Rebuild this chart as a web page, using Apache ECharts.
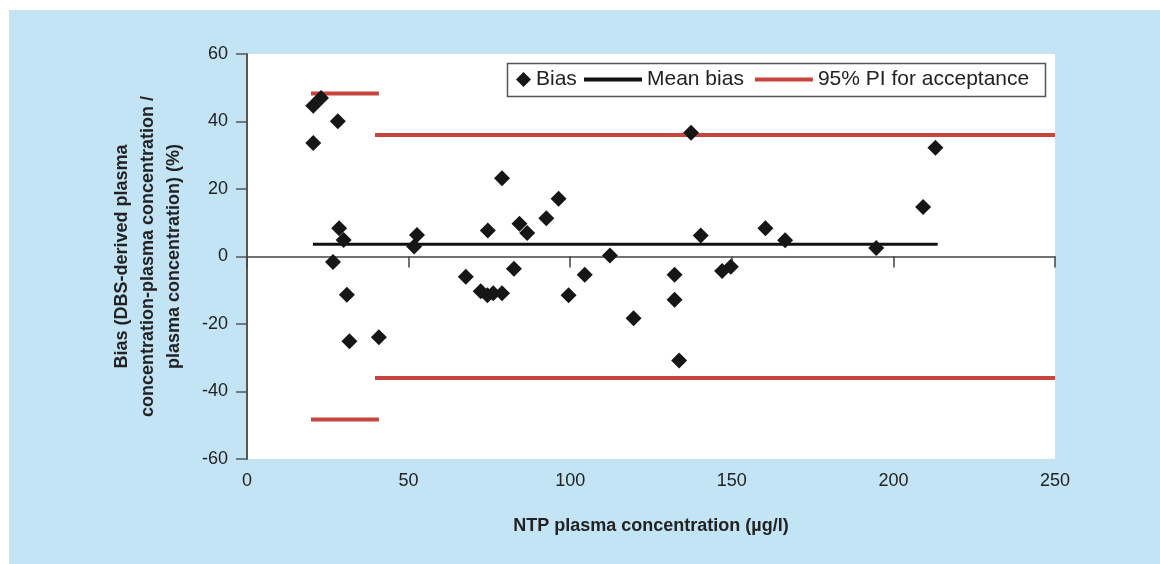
<!DOCTYPE html>
<html>
<head>
<meta charset="utf-8">
<script src="https://cdn.jsdelivr.net/npm/echarts@6/dist/echarts.min.js"></script>
<style>
  html, body { margin: 0; padding: 0; background: #ffffff; }
  #bg { position: absolute; left: 9px; top: 10px; width: 1151px; height: 554px; background: #c3e4f5; }
  #chart { position: absolute; left: 0; top: 0; width: 1160px; height: 564px; }
</style>
</head>
<body>
<div id="bg"></div>
<div id="chart"></div>
<script>
// ---- data ----
const ntpConc = [20.5, 22.9, 20.5, 28.1, 28.5, 29.9, 26.6, 30.9, 31.7, 40.8,
                 52.6, 51.7, 67.7, 74.5, 78.9, 72.3, 74.4, 76.2, 78.9, 82.6,
                 84.3, 86.7, 92.6, 96.4, 99.5, 104.5, 112.3, 119.6, 132.3, 132.3,
                 133.7, 137.4, 140.4, 147.0, 149.7, 160.4, 166.5, 194.7, 209.2, 213.0];
const biasPct = [44.7, 47.0, 33.6, 40.1, 8.4, 4.9, -1.6, -11.3, -25.1, -23.9,
                 6.4, 3.0, -6.0, 7.7, 23.2, -10.3, -11.5, -10.9, -10.9, -3.6,
                 9.7, 7.0, 11.3, 17.1, -11.5, -5.4, 0.3, -18.3, -5.4, -12.8,
                 -30.8, 36.7, 6.2, -4.3, -3.0, 8.4, 4.8, 2.5, 14.7, 32.2];
const meanBias = 3.6;
const meanBiasRange = [20.4, 213.7];
const piLowConc = 48.3;          // acceptance limit (±) for low concentrations
const piLowConcRange = [19.8, 40.8];
const piHighConc = 36.0;         // acceptance limit (±) above 40 µg/l
const piHighConcRange = [39.6, 250];
const xTicks = [0, 250, 50];     // min, max, interval
const yTicks = [-60, 60, 20];
const legendNames = ['Bias', 'Mean bias', '95% PI for acceptance'];

const FONT = 'Liberation Sans, Arial, Helvetica, sans-serif';
const RED = '#c8453d';

const scatterData = ntpConc.map((x, i) => [x, biasPct[i]]);
function hLine(range, y) { return range.map(x => [x, y]); }

function piSeries(range, y) {
  return {
    name: legendNames[2], type: 'line', data: hLine(range, y),
    xAxisIndex: 0, symbol: 'none', color: RED,
    lineStyle: { color: RED, width: 4 }, z: 3
  };
}

const chart = echarts.init(document.getElementById('chart'), null, { renderer: 'canvas' });
chart.setOption({
  animation: false,
  textStyle: { fontFamily: FONT },
  grid: { left: 247, top: 54, width: 808, height: 405, show: true, backgroundColor: '#ffffff', borderWidth: 0 },
  graphic: [{
    type: 'rect', z: 1,
    shape: { x: 507.5, y: 63.5, width: 538, height: 33 },
    style: { fill: '#ffffff', stroke: '#555555', lineWidth: 1.5 }
  }],
  legend: [
    {
      data: [{ name: legendNames[0], icon: 'diamond' }],
      left: 516, top: 69, itemWidth: 15, itemHeight: 15, z: 5,
      textStyle: { fontSize: 21, color: '#222', fontFamily: FONT }, padding: 0
    },
    {
      data: [{ name: legendNames[1], icon: 'rect' }, { name: legendNames[2], icon: 'rect' }],
      left: 584, top: 69, itemWidth: 58, itemHeight: 4, itemGap: 11, z: 5,
      textStyle: { fontSize: 21, color: '#222', fontFamily: FONT }, padding: 0
    }
  ],
  xAxis: [
    {
      type: 'value', position: 'bottom', min: xTicks[0], max: xTicks[1], interval: xTicks[2],
      axisLine: { show: false, onZero: false }, axisTick: { show: false }, splitLine: { show: false },
      axisLabel: { fontSize: 18, color: '#222', margin: 13, fontFamily: FONT },
      name: 'NTP plasma concentration (µg/l)', nameLocation: 'middle', nameGap: 58,
      nameTextStyle: { fontSize: 18, fontWeight: 'bold', color: '#222', fontFamily: FONT }
    },
    {
      type: 'value', position: 'top', min: xTicks[0], max: xTicks[1], interval: xTicks[2],
      axisLine: { show: true, onZero: true, lineStyle: { color: '#444', width: 1.5 } },
      axisTick: { show: true, inside: true, length: 11, lineStyle: { color: '#444', width: 1.5 } },
      axisLabel: { show: false }, splitLine: { show: false }
    }
  ],
  yAxis: {
    type: 'value', min: yTicks[0], max: yTicks[1], interval: yTicks[2],
    axisLine: { show: true, lineStyle: { color: '#555', width: 2 } },
    axisTick: { show: true, length: 11, lineStyle: { color: '#555', width: 1.5 } },
    splitLine: { show: false },
    axisLabel: { fontSize: 18, color: '#222', margin: 19, fontFamily: FONT },
    name: 'Bias (DBS-derived plasma\nconcentration-plasma concentration /\nplasma concentration) (%)',
    nameLocation: 'middle', nameRotate: 90, nameGap: 60,
    nameTextStyle: { fontSize: 18, fontWeight: 'bold', color: '#222', lineHeight: 26, fontFamily: FONT, align: 'center' }
  },
  series: [
    {
      name: legendNames[0], type: 'scatter', data: scatterData, xAxisIndex: 0,
      symbol: 'diamond', symbolSize: 16, color: '#161616',
      itemStyle: { color: '#161616', opacity: 1 }, z: 4
    },
    {
      name: legendNames[1], type: 'line', data: hLine(meanBiasRange, meanBias), xAxisIndex: 0,
      symbol: 'none', color: '#111', lineStyle: { color: '#111', width: 3 }, z: 3
    },
    piSeries(piLowConcRange, piLowConc),
    piSeries(piLowConcRange, -piLowConc),
    piSeries(piHighConcRange, piHighConc),
    piSeries(piHighConcRange, -piHighConc)
  ]
});
</script>
</body>
</html>
